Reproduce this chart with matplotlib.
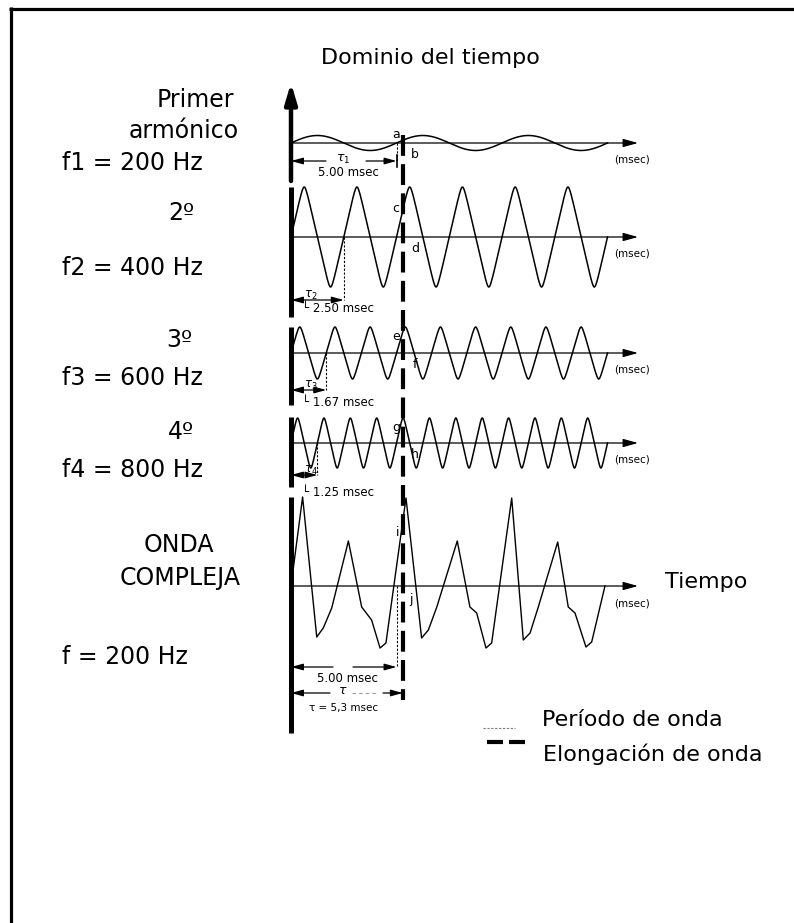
import numpy as np
import matplotlib.pyplot as plt

W, H = 794, 923

# time axis: origin of the traces and ms -> px scale of the drawing
X0 = 291
MS_PX = 21.1

# harmonics (200, 400, 600, 800 Hz), 15 ms of each
harm_freq_hz = [200, 400, 600, 800]
harm_amp = [7.5, 50, 26, 25]
harm_base = [143, 237, 353, 443]
harm_sharp = [0.0, 0.97, 0.95, 0.95]   # 0 = sine, close to 1 = triangle
duration_ms = 15.0
period_ms = [5.00, 2.50, 1.67, 1.25]
period_txt = ["5.00 msec", "2.50 msec", "1.67 msec", "1.25 msec"]
point_labels = [("a", "b"), ("c", "d"), ("e", "f"), ("g", "h")]

# complex wave (ms, amplitude)
cx_t = [0.0, 0.55, 1.22, 1.53, 1.93, 2.72, 3.35, 3.82, 4.22, 4.50,
        5.45, 6.19, 6.51, 6.91, 7.88, 8.48, 8.80, 9.24, 9.51,
        10.46, 11.01, 11.33, 11.72, 12.64, 13.14, 13.46, 13.98, 14.25, 14.88]
cx_amp = [0, 89, -51, -42, -22, 45, -21, -34, -62, -57,
          88, -52, -44, -21, 45, -21, -27, -62, -57,
          88, -54, -47, -21, 44, -21, -27, -61, -56, 0]
cx_base = 586
cx_period_ms = 5.00
elong_ms = 5.3


def ms(px):
    return (px - X0) / MS_PX


fig = plt.figure(figsize=(W / 100, H / 100), dpi=100)
ax = fig.add_axes([0, 0, 1, 1])
ax.set_xlim(ms(0), ms(W))
ax.set_ylim(H, 0)
ax.axis('off')

# frame (only top and left edges are inside the picture)
ax.plot([ms(9), ms(W)], [8.5, 8.5], color='black', lw=2.3, solid_capstyle='butt')
ax.plot([ms(10.5), ms(10.5)], [7, H], color='black', lw=2.3, solid_capstyle='butt')

ax.text(ms(430), 58, "Dominio del tiempo", fontsize=16, ha='center', va='center')


def axis_arrow(base):
    ax.annotate("", xy=(ms(638), base), xytext=(0, base),
                arrowprops=dict(arrowstyle="-|>,head_length=0.9,head_width=0.25",
                                lw=0.9, color='black', mutation_scale=10,
                                shrinkA=0, shrinkB=0))
    ax.text(ms(614), base + 17, "(msec)", fontsize=7.5, ha='left', va='center')


def dim_arrow(x1, x2, y, head_left=True, head_right=True, lw=0.9):
    style = "<|-|>" if (head_left and head_right) else ("<|-" if head_left else "-|>")
    ax.annotate("", xy=(x2, y), xytext=(x1, y),
                arrowprops=dict(arrowstyle=style + ",head_length=0.8,head_width=0.22",
                                lw=lw, color='black', mutation_scale=9,
                                shrinkA=0, shrinkB=0))


def marker(x, y1, y2):
    ax.plot([x, x], [y1, y2], color='black', lw=0.8, dashes=(2, 1.5))


# harmonics
t = np.linspace(0, duration_ms, 3000)
for i, f in enumerate(harm_freq_hz):
    ph = 2 * np.pi * f * t / 1000.0
    if harm_sharp[i] == 0:
        shape = np.sin(ph)
    else:
        shape = np.arcsin(harm_sharp[i] * np.sin(ph)) / np.arcsin(harm_sharp[i])
    ax.plot(t, harm_base[i] - harm_amp[i] * shape, color='black', lw=1.1)
    axis_arrow(harm_base[i])

# period of each harmonic
marker(period_ms[0], harm_base[0], 161)
ax.plot([period_ms[0]] * 2, [155, 167], color='black', lw=1.2)
dim_arrow(ms(326), 0, 161, head_left=False, head_right=True)
dim_arrow(ms(366), period_ms[0], 161, head_left=False, head_right=True)
ax.text(ms(343), 159, r"$\tau_1$", fontsize=9, ha='center', va='center')
ax.text(ms(348), 173, period_txt[0], fontsize=8.5, ha='center', va='center')

tau_y = [None, 300, 390, 475]
lab_y = [None, 308, 403, 493]
for i in range(1, 4):
    marker(period_ms[i], harm_base[i], tau_y[i])
    dim_arrow(0, period_ms[i], tau_y[i])
    ax.text(ms(304), tau_y[i] - 5, r"$\tau_%d$" % (i + 1), fontsize=8.5,
            ha='left', va='center')
    ax.text(ms(302), lab_y[i], "\u2514 " + period_txt[i], fontsize=8.5,
            ha='left', va='center')

# point letters along the elongation line
for i, (up, dn) in enumerate(point_labels):
    b = harm_base[i]
    up_y = [134, 208, 337, 427][i]
    ax.text(ms(396), up_y, up, fontsize=9, ha='center', va='center')
    ax.text(ms(415), b + 12, dn, fontsize=9, ha='center', va='center')

# complex wave
ax.plot(cx_t, cx_base - np.array(cx_amp), color='black', lw=1.0)
axis_arrow(cx_base)
ax.text(ms(398), 533, "i", fontsize=9, ha='center', va='center')
ax.text(ms(411), 599, "j", fontsize=9, ha='center', va='center')
ax.text(ms(665), cx_base - 4, "Tiempo", fontsize=16, ha='left', va='center')

marker(cx_period_ms, cx_base, 667)
dim_arrow(ms(333), 0, 667, head_left=False, head_right=True)
dim_arrow(ms(353), cx_period_ms, 667, head_left=False, head_right=True)
ax.text(ms(347), 679, "5.00 msec", fontsize=8.5, ha='center', va='center')
dim_arrow(ms(330), 0, 693, head_left=False, head_right=True)
dim_arrow(ms(383), elong_ms, 693, head_left=False, head_right=True)
ax.text(ms(343), 691, r"$\tau$", fontsize=9, ha='center', va='center')
ax.plot([ms(352), ms(378)], [693, 693], color='#999999', lw=0.8, dashes=(3, 3))
ax.text(ms(344), 708, "\u03c4 = 5,3 msec", fontsize=7.5, ha='center', va='center')

# thick time-origin line (broken between rows) with arrow on top
segs = [(187, 317), (327, 405), (417, 487), (497, 733)]
ax.annotate("", xy=(0, 83), xytext=(0, 181),
            arrowprops=dict(arrowstyle="-|>,head_length=0.6,head_width=0.18",
                            lw=3.2, color='black', mutation_scale=20,
                            shrinkA=0, shrinkB=0))
for y1, y2 in segs:
    ax.plot([0, 0], [y1, y2], color='black', lw=3.6, solid_capstyle='butt')

# elongation line
ax.plot([elong_ms, elong_ms], [135, 700], color='black', lw=3.0,
        dashes=(5, 2), dash_capstyle='butt')

# left labels
left = [("Primer", 195, 100, 'center'), ("armónico", 184, 131, 'center'),
        ("f1 = 200 Hz", 62, 163, 'left'),
        ("2º", 181, 213, 'center'), ("f2 = 400 Hz", 62, 268, 'left'),
        ("3º", 179, 340, 'center'), ("f3 = 600 Hz", 62, 378, 'left'),
        ("4º", 181, 432, 'center'), ("f4 = 800 Hz", 62, 470, 'left'),
        ("ONDA", 179, 545, 'center'), ("COMPLEJA", 180, 578, 'center'),
        ("f = 200 Hz", 62, 657, 'left')]
for s, x, y, ha in left:
    ax.text(ms(x), y, s, fontsize=17, ha=ha, va='center')

# legend
ax.plot([ms(483), ms(515)], [728, 728], color='#777777', lw=0.8, dashes=(2, 1.5))
ax.text(ms(542), 720, "Período de onda", fontsize=16, ha='left', va='center')
ax.plot([ms(487), ms(525)], [742, 742], color='black', lw=3.0,
        dashes=(3.84, 1.44), dash_capstyle='butt')
ax.text(ms(543), 754, "Elongación de onda", fontsize=16, ha='left', va='center')

fig.savefig("out.png", dpi=100)
